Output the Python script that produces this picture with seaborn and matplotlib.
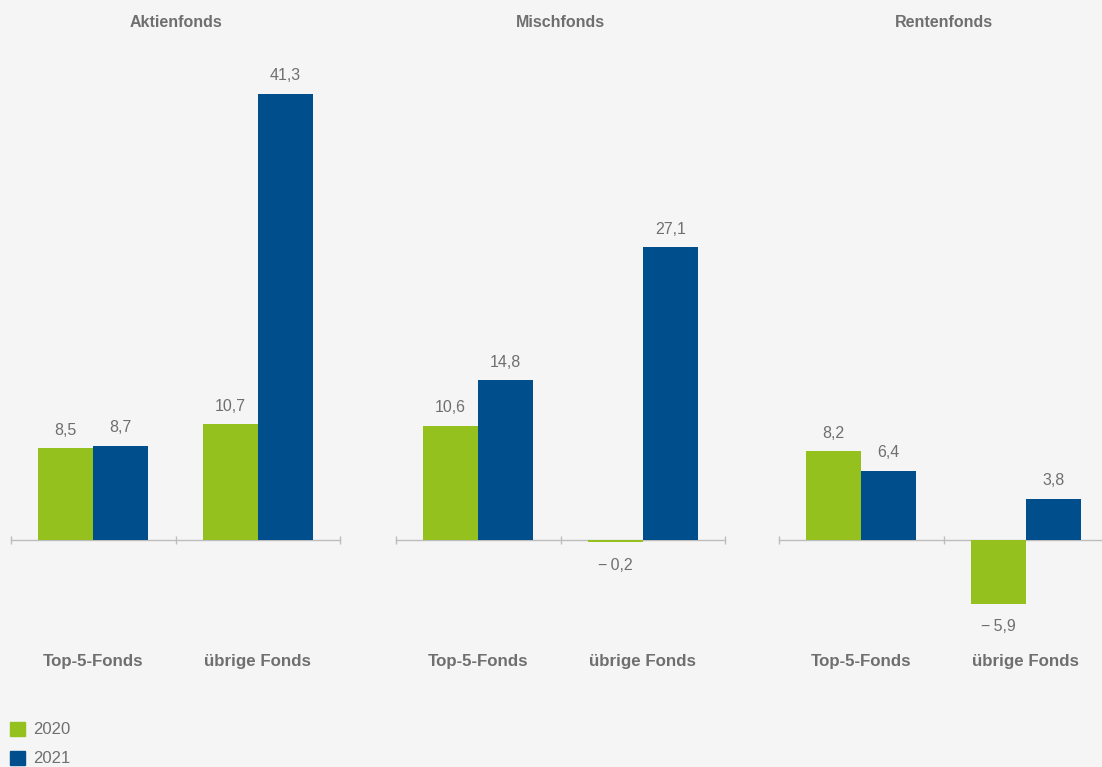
import matplotlib
matplotlib.use("Agg")
import matplotlib.pyplot as plt
import matplotlib.patches as mpatches
import seaborn as sns
import pandas as pd

# Mittelaufkommen nach Fondsart (Mrd. Euro)
fondsarten = ["Aktienfonds", "Mischfonds", "Rentenfonds"]
kategorien = ["Top-5-Fonds", "übrige Fonds"]
jahre = ["2020", "2021"]

werte_2020 = [8.5, 10.7, 10.6, -0.2, 8.2, -5.9]
werte_2021 = [8.7, 41.3, 14.8, 27.1, 6.4, 3.8]

farben = {"2020": "#95c11f", "2021": "#004f8c"}

rows = []
for jahr, werte in zip(jahre, [werte_2020, werte_2021]):
    i = 0
    for fa in fondsarten:
        for kat in kategorien:
            rows.append({"Fondsart": fa, "Kategorie": kat, "Jahr": jahr, "Wert": werte[i]})
            i += 1
df = pd.DataFrame(rows)

BG = "#f5f5f5"
TEXT = "#6f6f6f"
LINE = "#bdbdbd"

sns.set_theme(style="white")
plt.rcParams["font.family"] = ["Liberation Sans", "DejaVu Sans"]

W, H = 1102, 767
fig = plt.figure(figsize=(W / 100, H / 100), dpi=100, facecolor=BG)

px_scale = 10.8          # pixels per unit
zero_px = 540
top_px, bottom_px = 50, 640
ymax = (zero_px - top_px) / px_scale
ymin = -(bottom_px - zero_px) / px_scale

lefts = [11, 396, 779]
width_px = 329


def fmt(v):
    s = f"{abs(v):.1f}".replace(".", ",")
    return ("\u2212\u2009" + s) if v < 0 else s


for fa, left in zip(fondsarten, lefts):
    ax = fig.add_axes([left / W, (H - bottom_px) / H, width_px / W, (bottom_px - top_px) / H])
    ax.set_facecolor(BG)
    sub = df[df["Fondsart"] == fa]
    sns.barplot(data=sub, x="Kategorie", y="Wert", hue="Jahr", order=kategorien,
                hue_order=jahre, palette=farben, width=0.67, gap=0, errorbar=None,
                legend=False, ax=ax, linewidth=0, saturation=1)
    ax.set_xlim(-0.5, 1.5)
    ax.set_ylim(ymin, ymax)
    ax.set_xlabel("")
    ax.set_ylabel("")
    ax.set_yticks([])
    for s in ["top", "right", "left"]:
        ax.spines[s].set_visible(False)
    ax.spines["bottom"].set_position(("data", 0))
    ax.spines["bottom"].set_color(LINE)
    ax.spines["bottom"].set_linewidth(1.0)
    ax.spines["bottom"].set_zorder(0.5)
    ax.set_xticks([0, 1])
    ax.set_xticklabels(kategorien, fontsize=12.2, fontweight="bold", color=TEXT)
    ax.set_xticks([-0.5, 0.5, 1.5], minor=True)
    ax.tick_params(axis="x", which="major", length=0, pad=82)
    ax.tick_params(axis="x", which="minor", direction="inout", length=6,
                   width=1.0, color=LINE, bottom=True)
    ax.set_title(fa, fontsize=11.5, fontweight="bold", color=TEXT, pad=16.8)

    for cont in ax.containers:
        for bar in cont:
            v = bar.get_height()
            x = bar.get_x() + bar.get_width() / 2
            off = 13 if v >= 0 else -16.5
            ax.annotate(fmt(v), (x, v), xytext=(0, off), textcoords="offset points",
                        ha="center", va="center", fontsize=11.5, color=TEXT)

handles = [mpatches.Patch(color=farben[j], label=j) for j in jahre]
fig.legend(handles=handles, loc="upper left", bbox_to_anchor=(3 / W, 1 - 715 / H),
           frameon=False, fontsize=12, handlelength=0.9, handleheight=0.9,
           handletextpad=0.5, labelspacing=0.8, labelcolor=TEXT, borderaxespad=0)

fig.savefig("out.png", dpi=100, facecolor=BG)
